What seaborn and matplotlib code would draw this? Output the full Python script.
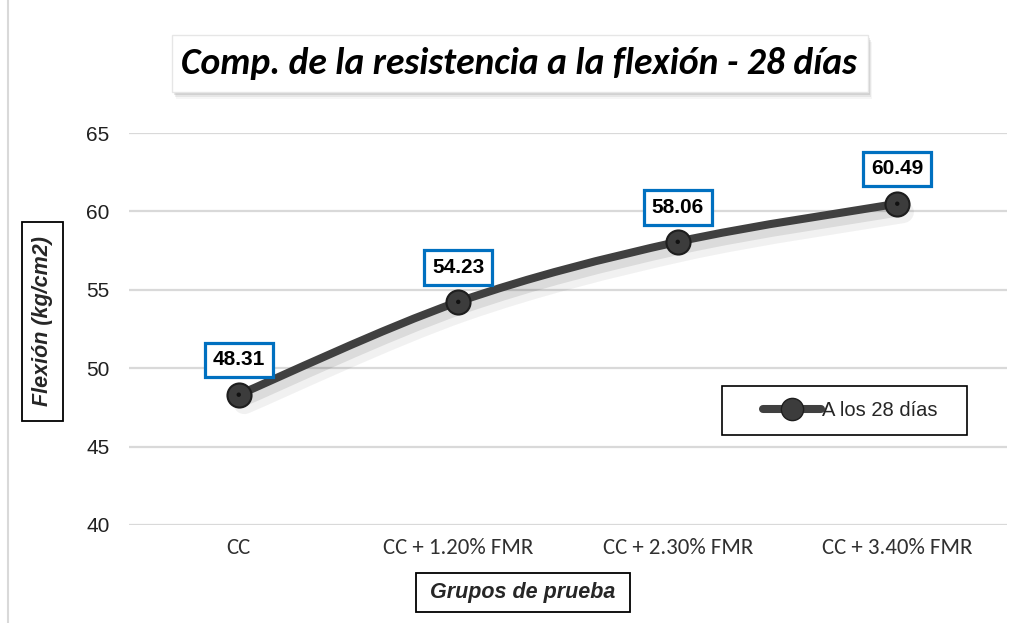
import matplotlib
matplotlib.use("Agg")
import matplotlib.pyplot as plt
import matplotlib.patheffects as pe
import numpy as np
import pandas as pd
import seaborn as sns
from matplotlib.lines import Line2D
from matplotlib.patches import PathPatch, Rectangle
from matplotlib.path import Path

groups = ["CC", "CC + 1.20% FMR", "CC + 2.30% FMR", "CC + 3.40% FMR"]
flexion = [48.31, 54.23, 58.06, 60.49]
y_ticks = [40, 45, 50, 55, 60, 65]
series_name = "A los 28 días"
title = "Comp. de la resistencia a la flexión - 28 días"
x_title = "Grupos de prueba"
y_title = "Flexión (kg/cm2)"

LINE = "#404040"
BLUE = "#0070C0"
GRID = "#d9d9d9"
CALIBRI = ["Carlito", "Liberation Sans", "DejaVu Sans"]
W, H = 1016, 623


def smooth_path(xs, ys):
    # Excel-like smoothed line: cubic Bezier segments through every point
    n = len(xs)
    verts = [(xs[0], ys[0])]
    codes = [Path.MOVETO]
    for i in range(n - 1):
        xa, ya = xs[max(i - 1, 0)], ys[max(i - 1, 0)]
        xb, yb = xs[min(i + 2, n - 1)], ys[min(i + 2, n - 1)]
        c1 = (xs[i] + (xs[i + 1] - xa) / 6, ys[i] + (ys[i + 1] - ya) / 6)
        c2 = (xs[i + 1] - (xb - xs[i]) / 6, ys[i + 1] - (yb - ys[i]) / 6)
        verts += [c1, c2, (xs[i + 1], ys[i + 1])]
        codes += [Path.CURVE4] * 3
    return Path(verts, codes)


def fig_box(x0, y0, x1, y1, **kw):
    # rectangle given in pixel coords (top-left origin)
    return Rectangle((x0 / W, 1 - y1 / H), (x1 - x0) / W, (y1 - y0) / H,
                     transform=fig.transFigure, **kw)


sns.set_theme(style="white")
plt.rcParams["font.family"] = ["Liberation Sans", "DejaVu Sans"]

fig = plt.figure(figsize=(W / 100, H / 100), dpi=100)
ax = fig.add_axes([129 / W, 1 - 525 / H, 878 / W, 392 / H])

df = pd.DataFrame({"grupo": groups, "flexion": flexion})
x = np.arange(len(groups))

# smoothed series line with soft shadow
curve = PathPatch(smooth_path(x, flexion), fill=False, edgecolor=LINE, lw=5.8,
                  capstyle="round", zorder=3,
                  path_effects=[pe.SimpleLineShadow(offset=(4, -6), shadow_color="k", alpha=0.06, linewidth=16),
                                pe.SimpleLineShadow(offset=(2, -4), shadow_color="k", alpha=0.10, linewidth=10),
                                pe.Normal()])
ax.add_patch(curve)

sns.scatterplot(data=df, x="grupo", y="flexion", s=300, color="#3c3c3c",
                edgecolor="#1e1e1e", linewidth=1.5, zorder=4, ax=ax, legend=False)
sns.scatterplot(data=df, x="grupo", y="flexion", s=10, color="#111111",
                edgecolor="none", zorder=5, ax=ax, legend=False)

for i, v in enumerate(flexion):
    ax.annotate(f"{v:.2f}", (i, v), xytext=(0, 25), textcoords="offset points",
                ha="center", va="center", fontsize=15, fontweight="bold", color="black",
                zorder=6,
                bbox=dict(boxstyle="square,pad=0.38", fc="white", ec=BLUE, lw=2.3))

ax.set_xlim(-0.5, len(groups) - 0.5)
ax.set_ylim(y_ticks[0], y_ticks[-1])
ax.set_yticks(y_ticks)
ax.set_xticks(x)
ax.set_xticklabels(groups, family=CALIBRI, fontsize=16.5, color="#303030")
ax.tick_params(axis="y", labelsize=15, labelcolor="#202020", length=0, pad=14)
ax.tick_params(axis="x", length=0, pad=9)
ax.grid(axis="y", color=GRID, lw=1.6)
ax.grid(axis="x", visible=False)
for s in ax.spines.values():
    s.set_visible(False)
ax.set_xlabel("")
ax.set_ylabel("")

# legend with a manual frame
fig.patches.append(fig_box(722, 386, 967, 435, fc="white", ec="black", lw=1.2, zorder=5))
handle = Line2D([], [], color=LINE, lw=5.8, marker="o", ms=16, mfc="#3c3c3c", mec="#1e1e1e")
fig.legend([handle], [series_name], loc="center", bbox_to_anchor=(850 / W, 1 - 410.5 / H),
           frameon=False, fontsize=14.5, handlelength=2.9, handletextpad=0.05)

# title box with shadow
for k, a in enumerate([0.04, 0.07, 0.10]):
    off = 7 - 2 * k
    fig.patches.append(fig_box(172 + off / 2, 35 + off, 868 + off / 2, 92 + off, fc="k", ec="none", alpha=a))
fig.patches.append(fig_box(172, 35, 868, 92, fc="white", ec="#e6e6e6", lw=1))
fig.text(519 / W, 1 - 63 / H, title, ha="center", va="center", fontsize=27,
         fontweight="bold", fontstyle="italic", family=CALIBRI, color="black")

# axis titles in boxes
fig.patches.append(fig_box(22, 222, 63, 421, fc="white", ec="black", lw=1.3))
fig.text(43 / W, 1 - 321.5 / H, y_title, rotation=90, ha="center", va="center",
         fontsize=15.5, fontweight="bold", fontstyle="italic")
fig.patches.append(fig_box(416, 573, 630, 612, fc="white", ec="black", lw=1.3))
fig.text(523 / W, 1 - 592.5 / H, x_title, ha="center", va="center",
         fontsize=15.5, fontweight="bold", fontstyle="italic")

# chart area border on the left
fig.add_artist(Line2D([8 / W, 8 / W], [0, 1], transform=fig.transFigure, color=GRID, lw=1.5))

fig.savefig("out.png", dpi=100)
